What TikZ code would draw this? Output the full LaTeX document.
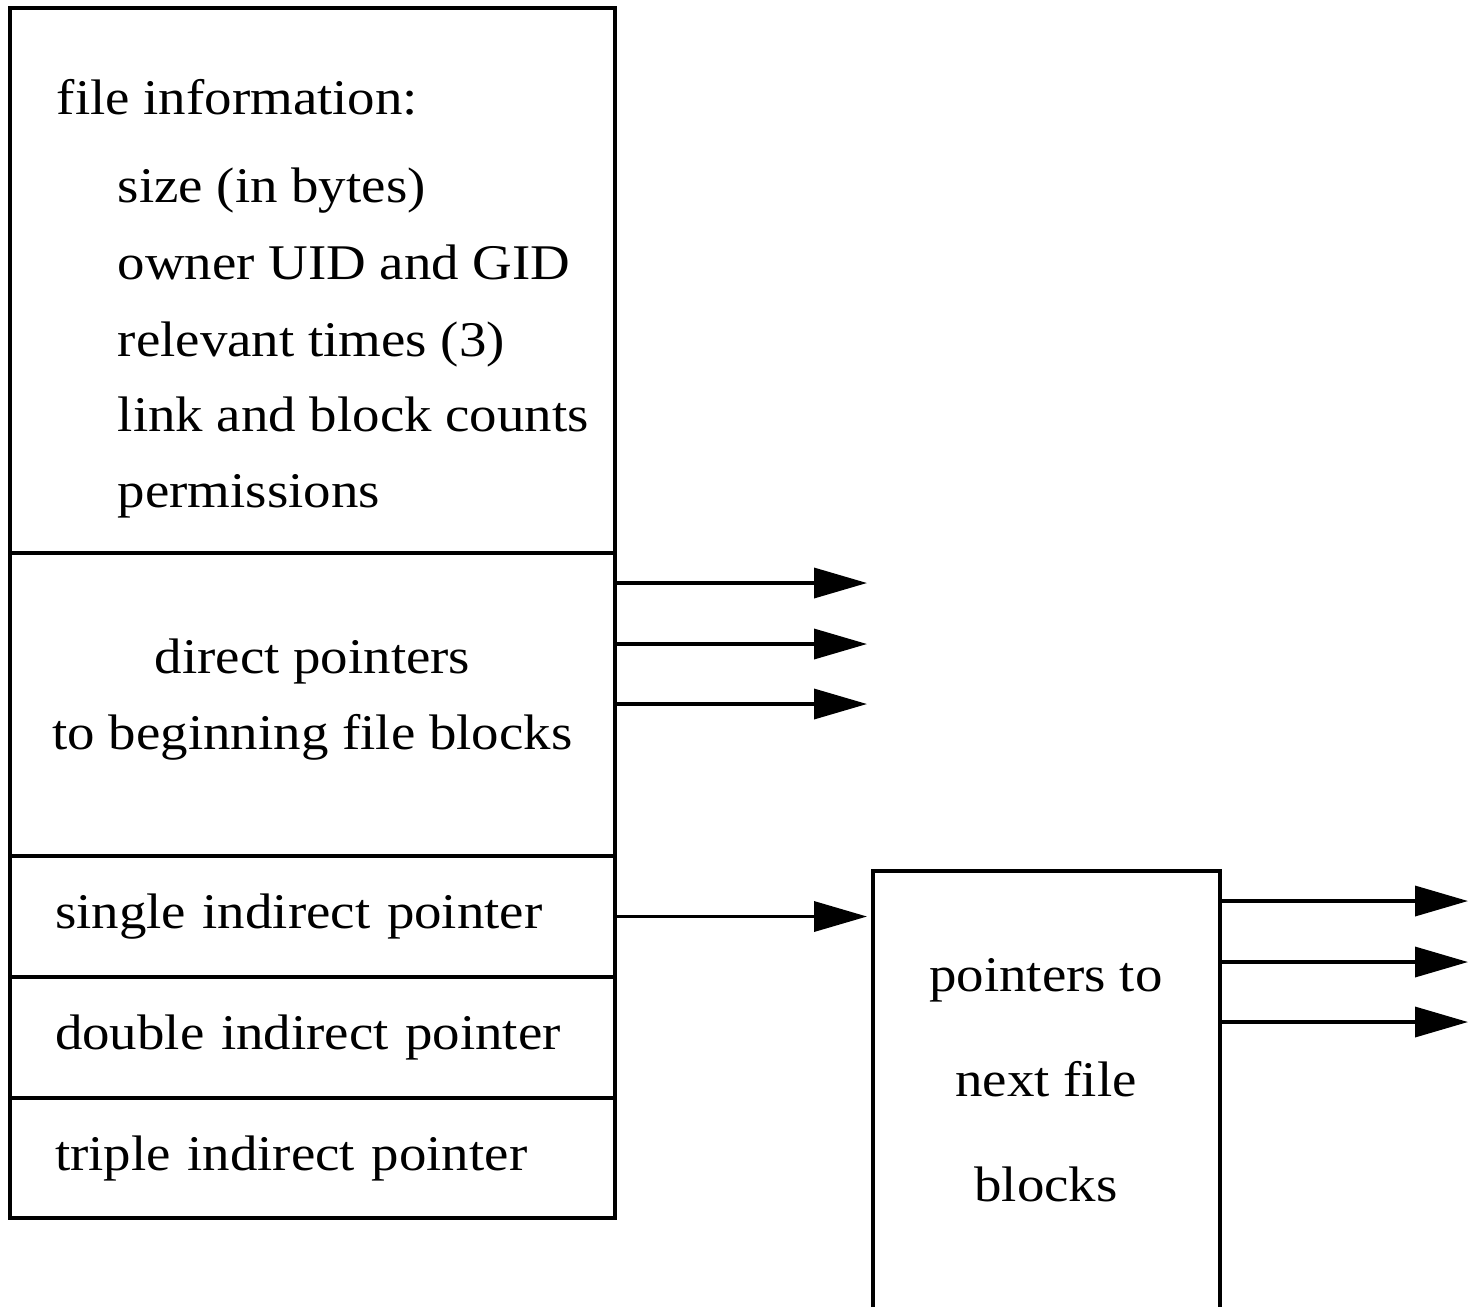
\documentclass[tikz,border=0pt]{standalone}
\usepackage{fontspec}
\setmainfont{Liberation Serif}[FakeStretch=1.10]
\usetikzlibrary{positioning,arrows.meta}

\begin{document}
\begin{tikzpicture}[
        line width=1pt,
        font=\fontsize{14.2}{21.6}\selectfont,
        sect/.style={draw, minimum width=6.05cm, outer sep=0pt, inner sep=0pt}, % one slot of the inode
        slot/.style={sect, minimum height=1.21cm, text width=5.15cm, align=left, inner xsep=0.45cm},
        txt/.style={anchor=base west, inner sep=0pt},
        mid/.style={anchor=base, inner sep=0pt},
        ptr/.style={-{Triangle[length=5.3mm, width=3mm]}},
    ]
    \useasboundingbox (0,0) rectangle (14.7,-13.07);

    % the inode, top to bottom
    \node[sect, minimum height=5.45cm, anchor=north west] (info) at (0.10,-0.08) {};
    \node[sect, minimum height=3.03cm, below=0pt of info] (direct) {};
    \node[slot, below=0pt of direct] (single) {single indirect pointer};
    \node[slot, below=0pt of single] (double) {double indirect pointer};
    \node[slot, minimum height=1.20cm, below=0pt of double] (triple) {triple indirect pointer};

    % file information lines
    \node[txt] (finfo) at (0.55,-1.14) {file information:};
    \node[txt] (fsize) at (1.16,-2.02) {size (in bytes)};
    \node[txt] (fowner) at ([yshift=-0.77cm]fsize.base west) {owner UID and GID};
    \node[txt] (ftimes) at ([yshift=-0.77cm]fowner.base west) {relevant times (3)};
    \node[txt] (fcounts) at ([yshift=-0.75cm]ftimes.base west) {link and block counts};
    \node[txt] (fperm) at ([yshift=-0.76cm]fcounts.base west) {permissions};

    \node[mid] (dtop) at (3.125,-6.73) {direct pointers};
    \node[mid] (dbot) at ([yshift=-0.76cm]dtop.base) {to beginning file blocks};

    % indirect block, open at the bottom
    \node[minimum width=3.47cm, minimum height=4.36cm, anchor=north west, outer sep=0pt] (ptrs) at (8.73,-8.71) {};
    \coordinate (floor) at (0,-13.07);
    \draw (ptrs.north west |- floor) -- (ptrs.north west) -- (ptrs.north east) -- (ptrs.north east |- floor);
    \node[mid] (ptop) at (10.46,-9.91) {pointers to};
    \node[mid] (pmid) at ([yshift=-1.05cm]ptop.base) {next file};
    \node[mid] (pbot) at ([yshift=-1.05cm]pmid.base) {blocks};

    % pointers
    \coordinate (d1) at (8.67,-5.83);
    \coordinate (d2) at (8.67,-6.44);
    \coordinate (d3) at (8.67,-7.04);
    \draw[ptr] (d1 -| direct.east) -- (d1);
    \draw[ptr] (d2 -| direct.east) -- (d2);
    \draw[ptr] (d3 -| direct.east) -- (d3);

    \draw[ptr, shorten >=0.06cm] (single.east) -- (single.east -| ptrs.west);

    \coordinate (n1) at (14.68,-9.01);
    \coordinate (n2) at (14.68,-9.62);
    \coordinate (n3) at (14.68,-10.22);
    \draw[ptr] (n1 -| ptrs.east) -- (n1);
    \draw[ptr] (n2 -| ptrs.east) -- (n2);
    \draw[ptr] (n3 -| ptrs.east) -- (n3);
\end{tikzpicture}
\end{document}
